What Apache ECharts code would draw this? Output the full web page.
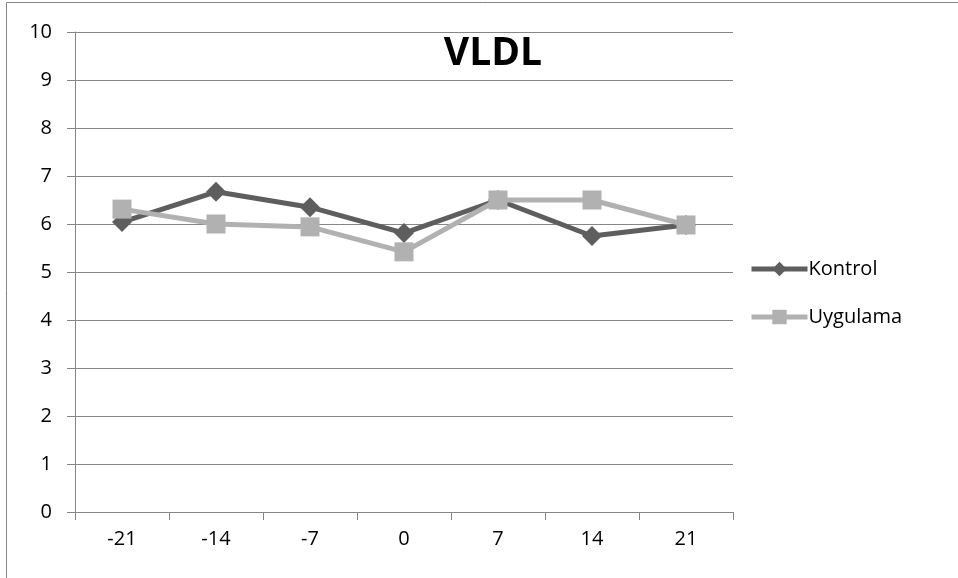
<!DOCTYPE html>
<html>
<head>
<meta charset="utf-8">
<script src="https://cdn.jsdelivr.net/npm/echarts@6/dist/echarts.min.js"></script>
<style>html,body{margin:0;padding:0;background:#fff}#c{width:958px;height:578px}</style>
</head>
<body>
<div id="c"></div>
<script>
const categories = ['-21', '-14', '-7', '0', '7', '14', '21'];
const kontrol = [6.04, 6.67, 6.35, 5.81, 6.5, 5.75, 5.98];
const uygulama = [6.31, 6.0, 5.94, 5.42, 6.5, 6.5, 5.98];
const yMin = 0, yMax = 10, yInterval = 1;

const chart = echarts.init(document.getElementById('c'), null, {renderer: 'canvas'});
const font = '"Open Sans", sans-serif';
chart.setOption({
  animation: false,
  backgroundColor: '#fff',
  title: {
    text: 'VLDL', left: 488, top: 29, textAlign: 'center',
    textStyle: {fontFamily: font, fontWeight: 'bold', fontSize: 39, color: '#000'}
  },
  legend: {
    orient: 'vertical', left: 744, top: 253, itemGap: 26,
    itemWidth: 56, itemHeight: 18,
    lineStyle: {width: 5},
    textStyle: {fontFamily: font, fontSize: 20, color: '#000', padding: [0,0,0,-4], lineHeight: 22},
    data: ['Kontrol', 'Uygulama']
  },
  grid: {left: 75, right: 225, top: 32, bottom: 66, containLabel: false},
  xAxis: {
    type: 'category', data: categories, boundaryGap: true,
    axisLine: {lineStyle: {color: '#868686', width: 1}},
    axisTick: {show: true, length: 8, inside: false, lineStyle: {color: '#868686'}},
    axisLabel: {fontFamily: font, fontSize: 20, color: '#000', margin: 17},
    splitLine: {show: false}
  },
  yAxis: {
    type: 'value', min: yMin, max: yMax, interval: yInterval,
    axisLine: {show: true, lineStyle: {color: '#868686', width: 1}},
    axisTick: {show: true, length: 8, lineStyle: {color: '#868686'}},
    axisLabel: {fontFamily: font, fontSize: 20, color: '#000', margin: 23},
    splitLine: {show: true, lineStyle: {color: '#868686', width: 1}}
  },
  series: [
    {
      name: 'Kontrol', type: 'line', data: kontrol,
      symbol: 'diamond', symbolSize: 20, showAllSymbol: true,
      itemStyle: {color: '#5e5e5e'},
      lineStyle: {color: '#5e5e5e', width: 5}, z: 2
    },
    {
      name: 'Uygulama', type: 'line', data: uygulama,
      symbol: 'rect', symbolSize: 19, showAllSymbol: true,
      itemStyle: {color: '#b1b1b1'},
      lineStyle: {color: '#b1b1b1', width: 5}, z: 3
    }
  ],
  graphic: [
    {type: 'line', shape: {x1: 6.5, y1: 2.5, x2: 958, y2: 2.5}, style: {stroke: '#868686', lineWidth: 1}},
    {type: 'line', shape: {x1: 6.5, y1: 2.5, x2: 6.5, y2: 578}, style: {stroke: '#868686', lineWidth: 1}}
  ]
});
</script>
</body>
</html>
